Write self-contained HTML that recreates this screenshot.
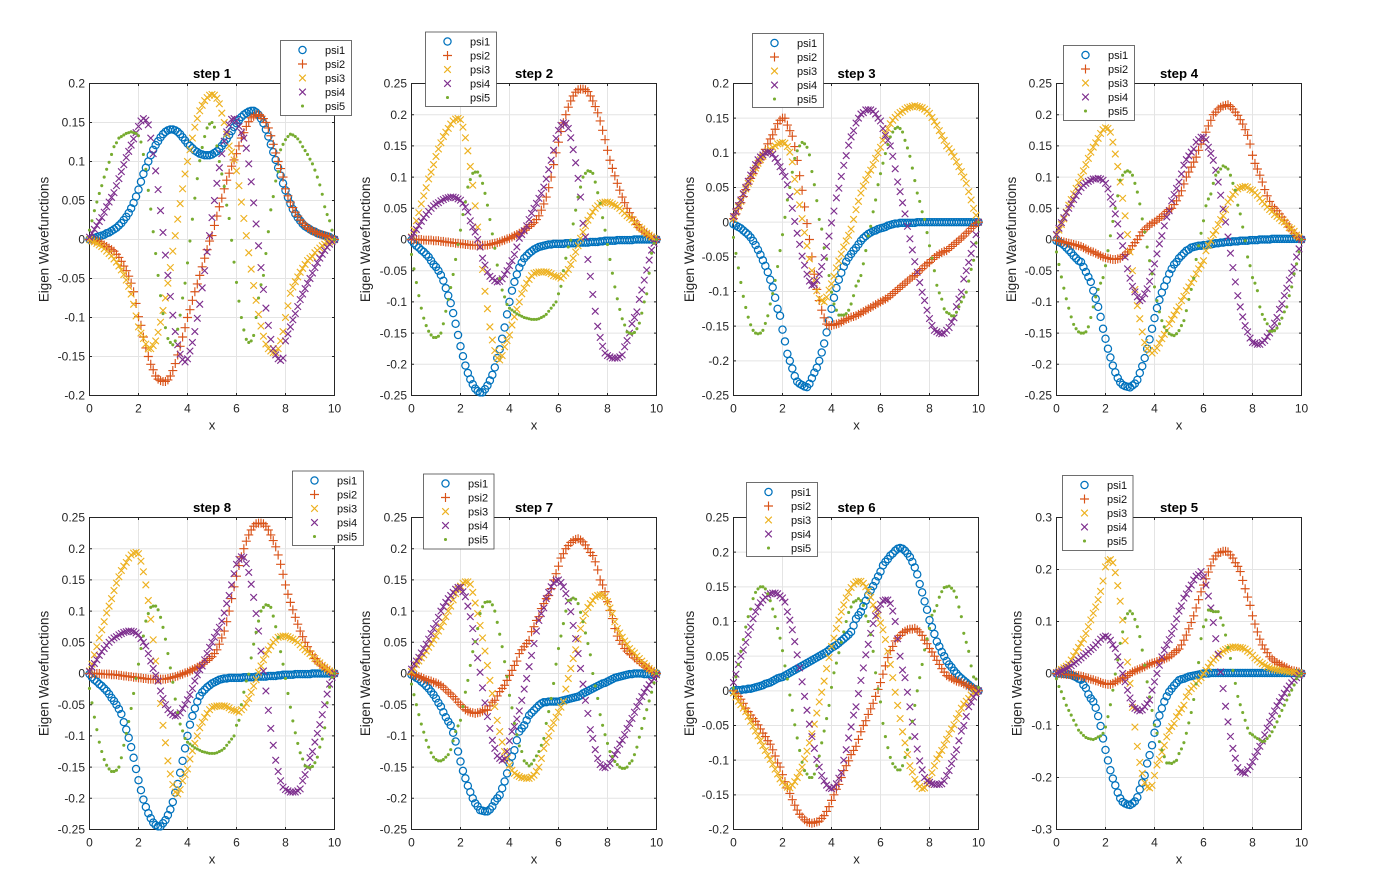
<!DOCTYPE html>
<html lang="en">
<head>
<meta charset="utf-8">
<title>Eigen Wavefunctions by step</title>
<style>
html,body{margin:0;padding:0;background:#fff;}
svg{display:block;font-family:"Liberation Sans",sans-serif;filter:blur(.3px);}
.tick{font-size:12px;fill:#262626;}
.title{font-size:13.2px;font-weight:bold;fill:#000;text-anchor:middle;}
.xlab{font-size:13.2px;fill:#262626;text-anchor:middle;}
.ylab{font-size:13.4px;fill:#262626;text-anchor:middle;}
.lbox{fill:#fff;stroke:#4a4a4a;stroke-width:.8;}
.ltxt{font-size:11px;fill:#111;}
</style>
</head>
<body>
<svg id="figure" xmlns="http://www.w3.org/2000/svg" width="1374" height="878" viewBox="0 0 1374 878">
<defs>
<circle id="mk1" r="3.6" fill="none" stroke="#0072BD" stroke-width="1.25"/>
<path id="mk2" d="M-4.5 0H4.5M0 -4.5V4.5" fill="none" stroke="#D95319" stroke-width="1.15"/>
<path id="mk3" d="M-3.3 -3.3L3.3 3.3M-3.3 3.3L3.3 -3.3" fill="none" stroke="#EDB120" stroke-width="1.15"/>
<path id="mk4" d="M-3.3 -3.3L3.3 3.3M-3.3 3.3L3.3 -3.3" fill="none" stroke="#7E2F8E" stroke-width="1.15"/>
<circle id="mk5" r="1.55" fill="#77AC30"/>
</defs>

<g id="step1">
<g class="plot"></g>
<text class="title" x="212" y="78">step 1</text>
<text class="xlab" x="212" y="429.5">x</text>
<text class="ylab" transform="translate(48.5,239.5) rotate(-90)">Eigen Wavefunctions</text>
<g transform="translate(280.5,40.5)">
<rect class="lbox" width="71" height="75"/>
<g><use href="#mk1" x="22" y="9.5"/><text class="ltxt" x="44.5" y="13.5">psi1</text></g>
<g><use href="#mk2" x="22" y="23.5"/><text class="ltxt" x="44.5" y="27.5">psi2</text></g>
<g><use href="#mk3" x="22" y="37.5"/><text class="ltxt" x="44.5" y="41.5">psi3</text></g>
<g><use href="#mk4" x="22" y="51.5"/><text class="ltxt" x="44.5" y="55.5">psi4</text></g>
<g><use href="#mk5" x="22" y="65.5"/><text class="ltxt" x="44.5" y="69.5">psi5</text></g>
</g>
</g>

<g id="step2">
<g class="plot"></g>
<text class="title" x="534" y="78">step 2</text>
<text class="xlab" x="534" y="429.5">x</text>
<text class="ylab" transform="translate(370,239.5) rotate(-90)">Eigen Wavefunctions</text>
<g transform="translate(425.5,32)">
<rect class="lbox" width="71" height="74.5"/>
<g><use href="#mk1" x="22" y="9.5"/><text class="ltxt" x="44.5" y="13.5">psi1</text></g>
<g><use href="#mk2" x="22" y="23.5"/><text class="ltxt" x="44.5" y="27.5">psi2</text></g>
<g><use href="#mk3" x="22" y="37.5"/><text class="ltxt" x="44.5" y="41.5">psi3</text></g>
<g><use href="#mk4" x="22" y="51.5"/><text class="ltxt" x="44.5" y="55.5">psi4</text></g>
<g><use href="#mk5" x="22" y="65.5"/><text class="ltxt" x="44.5" y="69.5">psi5</text></g>
</g>
</g>

<g id="step3">
<g class="plot"></g>
<text class="title" x="856.5" y="78">step 3</text>
<text class="xlab" x="856.5" y="429.5">x</text>
<text class="ylab" transform="translate(694,239.5) rotate(-90)">Eigen Wavefunctions</text>
<g transform="translate(752.5,33.5)">
<rect class="lbox" width="71" height="74"/>
<g><use href="#mk1" x="22" y="9.5"/><text class="ltxt" x="44.5" y="13.5">psi1</text></g>
<g><use href="#mk2" x="22" y="23.5"/><text class="ltxt" x="44.5" y="27.5">psi2</text></g>
<g><use href="#mk3" x="22" y="37.5"/><text class="ltxt" x="44.5" y="41.5">psi3</text></g>
<g><use href="#mk4" x="22" y="51.5"/><text class="ltxt" x="44.5" y="55.5">psi4</text></g>
<g><use href="#mk5" x="22" y="65.5"/><text class="ltxt" x="44.5" y="69.5">psi5</text></g>
</g>
</g>

<g id="step4">
<g class="plot"></g>
<text class="title" x="1179" y="78">step 4</text>
<text class="xlab" x="1179" y="429.5">x</text>
<text class="ylab" transform="translate(1016,239.5) rotate(-90)">Eigen Wavefunctions</text>
<g transform="translate(1063.5,45.5)">
<rect class="lbox" width="71" height="75"/>
<g><use href="#mk1" x="22" y="9.5"/><text class="ltxt" x="44.5" y="13.5">psi1</text></g>
<g><use href="#mk2" x="22" y="23.5"/><text class="ltxt" x="44.5" y="27.5">psi2</text></g>
<g><use href="#mk3" x="22" y="37.5"/><text class="ltxt" x="44.5" y="41.5">psi3</text></g>
<g><use href="#mk4" x="22" y="51.5"/><text class="ltxt" x="44.5" y="55.5">psi4</text></g>
<g><use href="#mk5" x="22" y="65.5"/><text class="ltxt" x="44.5" y="69.5">psi5</text></g>
</g>
</g>

<g id="step8">
<g class="plot"></g>
<text class="title" x="212" y="512">step 8</text>
<text class="xlab" x="212" y="863.5">x</text>
<text class="ylab" transform="translate(48.5,673.5) rotate(-90)">Eigen Wavefunctions</text>
<g transform="translate(292.5,471)">
<rect class="lbox" width="71" height="74.5"/>
<g><use href="#mk1" x="22" y="9.5"/><text class="ltxt" x="44.5" y="13.5">psi1</text></g>
<g><use href="#mk2" x="22" y="23.5"/><text class="ltxt" x="44.5" y="27.5">psi2</text></g>
<g><use href="#mk3" x="22" y="37.5"/><text class="ltxt" x="44.5" y="41.5">psi3</text></g>
<g><use href="#mk4" x="22" y="51.5"/><text class="ltxt" x="44.5" y="55.5">psi4</text></g>
<g><use href="#mk5" x="22" y="65.5"/><text class="ltxt" x="44.5" y="69.5">psi5</text></g>
</g>
</g>

<g id="step7">
<g class="plot"></g>
<text class="title" x="534" y="512">step 7</text>
<text class="xlab" x="534" y="863.5">x</text>
<text class="ylab" transform="translate(370,673.5) rotate(-90)">Eigen Wavefunctions</text>
<g transform="translate(423.5,474)">
<rect class="lbox" width="70.5" height="75"/>
<g><use href="#mk1" x="22" y="9.5"/><text class="ltxt" x="44.5" y="13.5">psi1</text></g>
<g><use href="#mk2" x="22" y="23.5"/><text class="ltxt" x="44.5" y="27.5">psi2</text></g>
<g><use href="#mk3" x="22" y="37.5"/><text class="ltxt" x="44.5" y="41.5">psi3</text></g>
<g><use href="#mk4" x="22" y="51.5"/><text class="ltxt" x="44.5" y="55.5">psi4</text></g>
<g><use href="#mk5" x="22" y="65.5"/><text class="ltxt" x="44.5" y="69.5">psi5</text></g>
</g>
</g>

<g id="step6">
<g class="plot"></g>
<text class="title" x="856.5" y="512">step 6</text>
<text class="xlab" x="856.5" y="863.5">x</text>
<text class="ylab" transform="translate(694,673.5) rotate(-90)">Eigen Wavefunctions</text>
<g transform="translate(746.5,482.5)">
<rect class="lbox" width="71" height="74"/>
<g><use href="#mk1" x="22" y="9.5"/><text class="ltxt" x="44.5" y="13.5">psi1</text></g>
<g><use href="#mk2" x="22" y="23.5"/><text class="ltxt" x="44.5" y="27.5">psi2</text></g>
<g><use href="#mk3" x="22" y="37.5"/><text class="ltxt" x="44.5" y="41.5">psi3</text></g>
<g><use href="#mk4" x="22" y="51.5"/><text class="ltxt" x="44.5" y="55.5">psi4</text></g>
<g><use href="#mk5" x="22" y="65.5"/><text class="ltxt" x="44.5" y="69.5">psi5</text></g>
</g>
</g>

<g id="step5">
<g class="plot"></g>
<text class="title" x="1179" y="512">step 5</text>
<text class="xlab" x="1179" y="863.5">x</text>
<text class="ylab" transform="translate(1021.5,673.5) rotate(-90)">Eigen Wavefunctions</text>
<g transform="translate(1062.5,475.5)">
<rect class="lbox" width="70.5" height="75"/>
<g><use href="#mk1" x="22" y="9.5"/><text class="ltxt" x="44.5" y="13.5">psi1</text></g>
<g><use href="#mk2" x="22" y="23.5"/><text class="ltxt" x="44.5" y="27.5">psi2</text></g>
<g><use href="#mk3" x="22" y="37.5"/><text class="ltxt" x="44.5" y="41.5">psi3</text></g>
<g><use href="#mk4" x="22" y="51.5"/><text class="ltxt" x="44.5" y="55.5">psi4</text></g>
<g><use href="#mk5" x="22" y="65.5"/><text class="ltxt" x="44.5" y="69.5">psi5</text></g>
</g>
</g>
</svg>

<script>
const xValues=[0,.1,.2,.3,.4,.5,.6,.7,.8,.9,
1,1.1,1.2,1.3,1.4,1.5,1.6,1.7,1.8,1.9,
2,2.1,2.2,2.3,2.4,2.5,2.6,2.7,2.8,2.9,
3,3.1,3.2,3.3,3.4,3.5,3.6,3.7,3.8,3.9,
4,4.1,4.2,4.3,4.4,4.5,4.6,4.7,4.8,4.9,
5,5.1,5.2,5.3,5.4,5.5,5.6,5.7,5.8,5.9,
6,6.1,6.2,6.3,6.4,6.5,6.6,6.7,6.8,6.9,
7,7.1,7.2,7.3,7.4,7.5,7.6,7.7,7.8,7.9,
8,8.1,8.2,8.3,8.4,8.5,8.6,8.7,8.8,8.9,
9,9.1,9.2,9.3,9.4,9.5,9.6,9.7,9.8,9.9,
10];
const xTicks=[0,2,4,6,8,10];
const yTicksStep1=[-.2,-.15,-.1,-.05,0,.05,.1,.15,.2];
const yTicksStep2=[-.25,-.2,-.15,-.1,-.05,0,.05,.1,.15,.2,.25];
const yTicksStep3=[-.25,-.2,-.15,-.1,-.05,0,.05,.1,.15,.2];
const yTicksStep4=[-.25,-.2,-.15,-.1,-.05,0,.05,.1,.15,.2,.25];
const yTicksStep8=[-.25,-.2,-.15,-.1,-.05,0,.05,.1,.15,.2,.25];
const yTicksStep7=[-.25,-.2,-.15,-.1,-.05,0,.05,.1,.15,.2,.25];
const yTicksStep6=[-.2,-.15,-.1,-.05,0,.05,.1,.15,.2,.25];
const yTicksStep5=[-.3,-.2,-.1,0,.1,.2,.3];

const step1Psi1=[0,.001,.002,.003,.004,.005,.006,.008,.009,.011,
.013,.015,.018,.021,.025,.029,.034,.04,.047,.055,
.064,.074,.084,.092,.1,.108,.115,.121,.126,.131,
.135,.138,.14,.141,.141,.14,.138,.135,.131,.127,
.123,.12,.117,.114,.112,.11,.109,.108,.108,.108,
.109,.111,.113,.116,.12,.124,.129,.134,.139,.144,
.149,.153,.157,.16,.162,.164,.165,.165,.163,.16,
.155,.149,.141,.132,.122,.112,.102,.092,.082,.072,
.063,.054,.046,.039,.033,.028,.024,.02,.017,.015,
.013,.011,.01,.008,.007,.006,.005,.004,.003,.001,
0];
const step1Psi2=[0,-.001,-.001,-.002,-.003,-.005,-.007,-.009,-.011,-.013,
-.015,-.019,-.023,-.028,-.034,-.04,-.047,-.056,-.067,-.082,
-.099,-.11,-.125,-.139,-.15,-.16,-.167,-.175,-.179,-.181,
-.182,-.182,-.18,-.175,-.168,-.159,-.148,-.137,-.125,-.113,
-.1,-.09,-.078,-.067,-.057,-.046,-.035,-.024,-.013,-.002,
.005,.018,.03,.042,.053,.065,.076,.085,.094,.102,
.11,.12,.13,.137,.145,.151,.156,.158,.16,.16,
.158,.155,.15,.143,.133,.122,.111,.1,.091,.08,
.065,.056,.048,.041,.035,.03,.025,.021,.018,.015,
.013,.011,.01,.008,.007,.006,.005,.004,.003,.001,
0];
const step1Psi3=[0,-.002,-.003,-.005,-.007,-.009,-.012,-.015,-.018,-.021,
-.025,-.029,-.034,-.039,-.045,-.052,-.06,-.07,-.083,-.098,
-.112,-.12,-.127,-.134,-.14,-.14,-.136,-.13,-.119,-.106,
-.091,-.075,-.056,-.036,-.015,.005,.026,.046,.065,.084,
.1,.115,.13,.144,.155,.165,.172,.178,.182,.185,
.186,.185,.181,.174,.162,.15,.135,.12,.112,.102,
.088,.069,.048,.027,.005,-.017,-.038,-.059,-.078,-.096,
-.111,-.124,-.134,-.14,-.143,-.145,-.145,-.14,-.13,-.118,
-.1,-.085,-.069,-.061,-.054,-.048,-.042,-.037,-.032,-.027,
-.024,-.022,-.017,-.014,-.011,-.008,-.006,-.004,-.003,-.001,
0];
const step1Psi4=[.003,.008,.013,.018,.023,.028,.035,.042,.048,.054,
.06,.069,.078,.087,.096,.105,.113,.121,.129,.137,
.145,.152,.155,.153,.147,.13,.11,.088,.064,.037,
.009,-.02,-.046,-.073,-.097,-.118,-.135,-.147,-.154,-.157,
-.153,-.143,-.132,-.118,-.101,-.083,-.062,-.04,-.016,.005,
.028,.05,.072,.092,.11,.126,.138,.147,.154,.155,
.152,.145,.137,.13,.117,.097,.074,.047,.02,-.008,
-.036,-.064,-.088,-.11,-.128,-.14,-.148,-.153,-.155,-.152,
-.13,-.121,-.112,-.103,-.095,-.086,-.077,-.07,-.063,-.056,
-.05,-.043,-.036,-.03,-.024,-.019,-.014,-.01,-.006,-.003,
0];
const step1Psi5=[.012,.024,.037,.048,.059,.069,.08,.09,.099,.109,
.119,.124,.13,.132,.134,.136,.137,.138,.137,.136,
.133,.125,.109,.09,.063,.039,.01,-.018,-.046,-.072,
-.095,-.113,-.127,-.132,-.135,-.13,-.115,-.097,-.075,-.056,
-.03,-.002,.026,.053,.078,.101,.118,.132,.143,.148,
.15,.144,.12,.1,.084,.068,.044,.027,-.001,-.029,
-.055,-.079,-.1,-.116,-.128,-.132,-.13,-.123,-.1,-.075,
-.058,-.046,-.018,.01,.038,.055,.075,.087,.115,.122,
.128,.132,.135,.134,.132,.129,.125,.119,.114,.109,
.103,.097,.089,.08,.07,.058,.042,.032,.024,.012,
0];

const step2Psi1=[-.001,-.006,-.01,-.013,-.017,-.02,-.024,-.028,-.034,-.04,
-.044,-.05,-.057,-.066,-.078,-.09,-.102,-.118,-.135,-.153,
-.171,-.187,-.202,-.214,-.224,-.232,-.239,-.243,-.245,-.245,
-.24,-.234,-.226,-.217,-.205,-.19,-.176,-.159,-.141,-.12,
-.1,-.082,-.068,-.056,-.045,-.037,-.03,-.026,-.022,-.019,
-.016,-.014,-.012,-.011,-.01,-.009,-.008,-.008,-.007,-.007,
-.007,-.007,-.007,-.006,-.006,-.006,-.006,-.006,-.005,-.005,
-.005,-.005,-.005,-.004,-.004,-.004,-.004,-.003,-.003,-.002,
-.002,-.002,-.002,-.002,-.001,-.001,-.001,-.001,-.001,-.001,
-.001,0,0,0,0,0,0,0,0,0,
0];
const step2Psi2=[0,0,0,0,0,-.001,-.001,-.001,-.001,-.002,
-.002,-.002,-.003,-.003,-.004,-.004,-.005,-.005,-.006,-.006,
-.007,-.007,-.008,-.008,-.009,-.009,-.009,-.009,-.009,-.009,
-.009,-.009,-.008,-.007,-.006,-.005,-.004,-.002,-.001,.001,
.002,.004,.006,.008,.01,.012,.015,.018,.021,.024,
.027,.032,.038,.047,.057,.068,.083,.1,.12,.139,
.156,.173,.187,.2,.212,.222,.23,.236,.24,.241,
.241,.24,.237,.23,.222,.213,.203,.19,.175,.16,
.143,.127,.114,.102,.09,.079,.068,.059,.05,.043,
.036,.03,.024,.019,.015,.012,.009,.006,.004,.002,
0];
const step2Psi3=[.004,.015,.03,.043,.057,.07,.083,.097,.108,.12,
.133,.145,.155,.165,.172,.178,.185,.19,.193,.194,
.192,.18,.163,.142,.117,.087,.054,.02,-.012,-.048,
-.083,-.111,-.14,-.161,-.178,-.19,-.193,-.186,-.172,-.162,
-.153,-.137,-.124,-.112,-.1,-.087,-.078,-.07,-.064,-.058,
-.054,-.053,-.052,-.052,-.052,-.052,-.053,-.055,-.058,-.059,
-.06,-.062,-.058,-.054,-.048,-.04,-.03,-.02,-.01,.002,
.012,.022,.031,.038,.044,.05,.054,.058,.059,.06,
.06,.059,.057,.055,.053,.05,.046,.042,.038,.035,
.032,.028,.024,.02,.017,.013,.01,.007,.004,.002,
0];
const step2Psi4=[.003,.01,.016,.022,.029,.035,.04,.045,.05,.054,
.057,.059,.062,.064,.066,.067,.068,.068,.067,.065,
.063,.058,.052,.044,.03,.02,.012,0,-.012,-.03,
-.041,-.052,-.059,-.0625,-.066,-.068,-.067,-.063,-.056,-.05,
-.042,-.034,-.024,-.012,.002,.008,.014,.022,.032,.042,
.05,.058,.066,.074,.084,.097,.112,.127,.143,.162,
.175,.183,.187,.186,.178,.163,.144,.123,.098,.068,
.026,.004,-.032,-.059,-.088,-.115,-.139,-.157,-.171,-.182,
-.186,-.188,-.19,-.19,-.19,-.188,-.185,-.172,-.162,-.15,
-.135,-.125,-.116,-.096,-.081,-.065,-.049,-.033,-.017,-.006,
0];
const step2Psi5=[-.024,-.047,-.069,-.09,-.11,-.126,-.138,-.147,-.153,-.157,
-.157,-.155,-.15,-.135,-.115,-.096,-.077,-.056,-.032,-.008,
.015,.04,.06,.084,.096,.106,.108,.108,.102,.09,
.074,.055,.032,.009,-.014,-.041,-.0625,-.081,-.092,-.104,
-.11,-.113,-.116,-.119,-.121,-.123,-.125,-.126,-.127,-.128,
-.128,-.128,-.127,-.125,-.123,-.12,-.115,-.11,-.105,-.1,
-.087,-.075,-.05,-.03,-.012,-.001,.025,.047,.068,.084,
.1,.106,.11,.109,.106,.092,.075,.058,.035,.015,
-.008,-.032,-.054,-.076,-.095,-.112,-.127,-.137,-.148,-.15,
-.151,-.149,-.143,-.134,-.118,-.1,-.087,-.054,-.022,-.006,
0];

const step3Psi1=[-.003,-.005,-.007,-.009,-.012,-.015,-.018,-.022,-.027,-.033,
-.04,-.047,-.055,-.063,-.072,-.083,-.094,-.109,-.125,-.135,
-.155,-.172,-.19,-.2,-.211,-.222,-.23,-.233,-.235,-.237,
-.238,-.233,-.225,-.217,-.21,-.2,-.188,-.175,-.159,-.142,
-.125,-.109,-.095,-.083,-.073,-.064,-.057,-.051,-.046,-.041,
-.037,-.032,-.027,-.023,-.02,-.017,-.015,-.013,-.012,-.01,
-.009,-.008,-.007,-.005,-.004,-.003,-.002,-.002,-.001,-.001,
-.001,-.001,-.001,-.001,-.001,0,0,0,0,0,
0,0,0,0,0,0,0,0,0,0,
0,0,0,0,0,0,0,0,0,0,
0];
const step3Psi2=[.005,.012,.02,.028,.037,.047,.055,.063,.07,.078,
.085,.09,.097,.105,.113,.12,.126,.134,.142,.147,
.15,.15,.14,.132,.124,.109,.089,.067,.046,.022,
-.002,-.025,-.05,-.075,-.097,-.113,-.127,-.138,-.147,-.149,
-.149,-.148,-.147,-.146,-.144,-.142,-.14,-.139,-.137,-.136,
-.135,-.133,-.131,-.129,-.127,-.125,-.123,-.121,-.119,-.117,
-.115,-.113,-.111,-.109,-.106,-.103,-.1,-.097,-.094,-.091,
-.088,-.085,-.082,-.079,-.077,-.074,-.07,-.067,-.063,-.06,
-.058,-.054,-.051,-.048,-.046,-.044,-.042,-.041,-.038,-.035,
-.032,-.029,-.026,-.023,-.02,-.016,-.013,-.009,-.006,-.002,
0];
const step3Psi3=[.005,.014,.022,.03,.04,.048,.056,.063,.071,.078,
.085,.09,.095,.1,.103,.105,.108,.11,.113,.114,
.115,.114,.109,.101,.087,.062,.044,.025,.005,-.015,
-.034,-.053,-.07,-.084,-.099,-.11,-.113,-.115,-.108,-.098,
-.089,-.078,-.066,-.056,-.046,-.036,-.027,-.019,-.01,.004,
.018,.03,.042,.052,.061,.069,.075,.083,.092,.1,
.108,.118,.128,.135,.142,.147,.151,.155,.158,.16,
.163,.165,.166,.167,.168,.167,.166,.165,.163,.16,
.157,.151,.145,.14,.132,.125,.118,.11,.106,.101,
.095,.087,.08,.073,.065,.056,.044,.032,.02,.01,
0];
const step3Psi4=[.008,.015,.024,.032,.041,.05,.059,.068,.075,.083,
.09,.094,.097,.1,.101,.101,.098,.092,.087,.08,
.073,.066,.054,.037,.02,.001,-.016,-.032,-.049,-.062,
-.075,-.085,-.091,-.09,-.084,-.075,-.064,-.051,-.035,-.02,
-.001,.016,.035,.049,.066,.082,.096,.111,.123,.132,
.143,.15,.156,.158,.162,.162,.162,.16,.156,.15,
.146,.135,.125,.118,.11,.095,.077,.058,.044,.028,
.012,-.006,-.024,-.04,-.057,-.072,-.087,-.101,-.113,-.127,
-.139,-.149,-.156,-.158,-.16,-.161,-.16,-.156,-.152,-.144,
-.138,-.122,-.111,-.101,-.082,-.07,-.058,-.045,-.032,-.018,
0];
const step3Psi5=[-.022,-.045,-.066,-.087,-.107,-.123,-.137,-.148,-.156,-.16,
-.161,-.16,-.156,-.146,-.135,-.118,-.103,-.084,-.064,-.041,
-.018,.007,.032,.05,.072,.092,.103,.11,.115,.113,
.108,.097,.073,.054,.031,.004,-.01,-.037,-.053,-.077,
-.101,-.118,-.127,-.134,-.134,-.134,-.132,-.127,-.118,-.106,
-.092,-.085,-.077,-.06,-.041,-.02,-.006,.015,.032,.054,
.07,.085,.099,.112,.123,.13,.135,.137,.135,.13,
.118,.107,.095,.078,.06,.042,.03,.015,.004,-.015,
-.034,-.052,-.07,-.091,-.102,-.111,-.125,-.13,-.132,-.135,
-.135,-.13,-.122,-.115,-.108,-.101,-.085,-.068,-.055,-.03,
0];

const step4Psi1=[-.002,-.004,-.006,-.009,-.013,-.017,-.021,-.026,-.03,-.034,
-.036,-.044,-.052,-.06,-.068,-.082,-.095,-.108,-.124,-.143,
-.159,-.175,-.189,-.202,-.213,-.222,-.229,-.233,-.235,-.236,
-.237,-.234,-.231,-.225,-.214,-.203,-.19,-.175,-.16,-.143,
-.126,-.11,-.097,-.085,-.075,-.065,-.055,-.047,-.04,-.036,
-.03,-.026,-.022,-.018,-.016,-.013,-.012,-.011,-.01,-.01,
-.009,-.009,-.008,-.008,-.007,-.006,-.006,-.005,-.005,-.004,
-.004,-.004,-.003,-.003,-.003,-.002,-.002,-.002,-.002,-.001,
-.001,-.001,-.001,0,0,0,0,0,.001,.001,
.001,.001,.001,.001,.001,.001,.001,.001,.001,.001,
0];
const step4Psi2=[-.001,-.002,-.003,-.004,-.005,-.006,-.007,-.008,-.009,-.01,
-.011,-.013,-.015,-.017,-.019,-.02,-.022,-.024,-.026,-.028,
-.029,-.03,-.031,-.032,-.032,-.031,-.03,-.027,-.024,-.02,
-.016,-.01,-.005,0,.006,.012,.016,.02,.023,.026,
.028,.031,.034,.037,.041,.045,.048,.05,.056,.062,
.07,.078,.089,.1,.108,.116,.124,.132,.143,.153,
.159,.172,.182,.191,.2,.204,.209,.212,.214,.215,
.216,.213,.209,.204,.199,.192,.185,.176,.167,.153,
.135,.122,.113,.103,.092,.08,.07,.061,.053,.05,
.046,.041,.036,.031,.025,.02,.014,.01,.005,.002,
0];
const step4Psi3=[.007,.015,.024,.033,.044,.055,.064,.073,.082,.091,
.1,.11,.12,.13,.14,.148,.155,.162,.17,.176,
.179,.178,.172,.156,.137,.117,.092,.066,.038,.008,
-.02,-.05,-.08,-.106,-.127,-.148,-.165,-.175,-.178,-.182,
-.178,-.174,-.166,-.159,-.152,-.146,-.135,-.128,-.121,-.114,
-.108,-.098,-.091,-.082,-.076,-.069,-.063,-.055,-.047,-.041,
-.034,-.018,-.009,-.002,.008,.014,.024,.032,.038,.048,
.06,.065,.072,.076,.081,.083,.084,.085,.084,.08,
.079,.075,.071,.066,.061,.057,.052,.048,.045,.04,
.037,.034,.03,.028,.024,.019,.017,.013,.007,.004,
0];
const step4Psi4=[.008,.018,.027,.035,.043,.05,.057,.064,.07,.077,
.083,.087,.09,.093,.095,.097,.097,.098,.097,.095,
.09,.081,.068,.057,.041,.025,.006,-.01,-.028,-.047,
-.062,-.075,-.084,-.092,-.098,-.095,-.087,-.079,-.067,-.052,
-.039,-.023,-.007,.006,.022,.036,.046,.062,.072,.082,
.092,.105,.119,.128,.134,.14,.145,.156,.16,.164,
.164,.16,.148,.138,.127,.111,.092,.071,.049,.028,
.004,-.022,-.045,-.068,-.09,-.108,-.124,-.138,-.148,-.158,
-.165,-.166,-.168,-.168,-.165,-.162,-.156,-.15,-.143,-.134,
-.125,-.112,-.103,-.09,-.078,-.065,-.054,-.044,-.028,-.015,
0];
const step4Psi5=[-.02,-.04,-.06,-.078,-.095,-.11,-.124,-.136,-.143,-.148,
-.15,-.15,-.148,-.14,-.125,-.108,-.092,-.08,-.07,-.061,
-.042,-.018,.006,.029,.05,.07,.095,.103,.108,.11,
.108,.103,.09,.076,.057,.033,.012,-.012,-.034,-.055,
-.076,-.098,-.116,-.13,-.14,-.146,-.151,-.153,-.154,-.151,
-.146,-.138,-.13,-.114,-.096,-.08,-.062,-.032,-.01,.01,
.03,.054,.065,.073,.09,.103,.108,.113,.118,.116,
.113,.103,.09,.079,.055,.041,.02,-.002,-.028,-.042,
-.061,-.07,-.082,-.108,-.12,-.128,-.135,-.147,-.147,-.146,
-.142,-.135,-.126,-.116,-.108,-.09,-.076,-.055,-.039,-.02,
0];

const step8Psi1=[-.001,-.006,-.01,-.013,-.017,-.02,-.024,-.028,-.033,-.039,
-.044,-.05,-.057,-.065,-.078,-.09,-.103,-.118,-.135,-.153,
-.171,-.187,-.202,-.214,-.224,-.232,-.239,-.243,-.245,-.245,
-.24,-.235,-.227,-.218,-.206,-.191,-.177,-.159,-.14,-.12,
-.1,-.082,-.068,-.056,-.045,-.036,-.03,-.026,-.022,-.019,
-.016,-.014,-.012,-.01,-.009,-.008,-.008,-.007,-.007,-.007,
-.007,-.007,-.007,-.006,-.006,-.006,-.006,-.006,-.005,-.005,
-.005,-.005,-.005,-.004,-.004,-.004,-.004,-.003,-.003,-.002,
-.002,-.002,-.002,-.002,-.001,-.001,-.001,-.001,-.001,-.001,
-.001,0,0,0,0,0,0,0,0,0,
0];
const step8Psi2=[0,0,0,0,0,-.001,-.001,-.001,-.001,-.002,
-.002,-.002,-.003,-.003,-.004,-.004,-.005,-.005,-.006,-.006,
-.007,-.007,-.008,-.008,-.009,-.009,-.009,-.009,-.009,-.009,
-.009,-.009,-.008,-.007,-.006,-.005,-.004,-.002,-.001,.001,
.002,.004,.006,.008,.01,.012,.015,.018,.021,.024,
.027,.032,.038,.047,.057,.068,.083,.1,.12,.139,
.156,.173,.187,.2,.212,.222,.23,.236,.24,.241,
.241,.24,.236,.23,.222,.213,.203,.19,.175,.159,
.142,.127,.114,.102,.09,.079,.068,.059,.05,.043,
.036,.03,.024,.019,.015,.012,.009,.006,.004,.002,
0];
const step8Psi3=[.004,.015,.03,.043,.057,.07,.083,.097,.108,.12,
.133,.145,.155,.165,.172,.178,.185,.19,.193,.194,
.192,.18,.163,.142,.117,.087,.054,.02,-.012,-.048,
-.083,-.111,-.14,-.161,-.178,-.19,-.193,-.186,-.172,-.162,
-.153,-.137,-.124,-.112,-.1,-.087,-.078,-.07,-.064,-.058,
-.054,-.053,-.052,-.052,-.052,-.052,-.053,-.055,-.058,-.059,
-.06,-.062,-.058,-.054,-.048,-.04,-.03,-.02,-.01,.002,
.012,.022,.031,.038,.044,.05,.054,.058,.059,.06,
.06,.059,.057,.055,.053,.05,.046,.042,.038,.035,
.032,.028,.024,.02,.017,.013,.01,.007,.004,.002,
0];
const step8Psi4=[.003,.01,.016,.022,.029,.035,.04,.045,.05,.054,
.057,.059,.062,.064,.066,.067,.068,.068,.067,.065,
.062,.056,.05,.044,.032,.02,.008,-.003,-.012,-.028,
-.04,-.05,-.058,-.063,-.066,-.068,-.067,-.063,-.056,-.05,
-.042,-.034,-.024,-.012,-.002,.006,.012,.022,.032,.042,
.05,.058,.066,.074,.084,.097,.112,.125,.142,.16,
.175,.183,.187,.186,.176,.162,.143,.122,.096,.068,
.036,.004,-.028,-.059,-.088,-.115,-.139,-.157,-.172,-.182,
-.186,-.188,-.19,-.19,-.19,-.188,-.185,-.172,-.162,-.15,
-.135,-.125,-.11,-.096,-.082,-.066,-.05,-.033,-.017,-.006,
0];
const step8Psi5=[-.024,-.047,-.07,-.09,-.11,-.125,-.138,-.147,-.153,-.157,
-.157,-.155,-.15,-.135,-.115,-.096,-.077,-.056,-.032,-.008,
.015,.04,.06,.084,.096,.106,.108,.108,.102,.09,
.074,.055,.032,.009,-.014,-.041,-.0625,-.081,-.092,-.104,
-.11,-.113,-.116,-.119,-.121,-.123,-.125,-.126,-.127,-.128,
-.128,-.128,-.127,-.125,-.123,-.12,-.115,-.11,-.105,-.1,
-.083,-.075,-.05,-.03,-.012,-.001,.025,.047,.066,.084,
.1,.106,.11,.109,.106,.092,.075,.058,.035,.015,
-.008,-.032,-.054,-.076,-.095,-.112,-.127,-.137,-.148,-.15,
-.151,-.149,-.143,-.134,-.118,-.105,-.087,-.047,-.022,-.006,
0];

const step7Psi1=[-.002,-.004,-.007,-.009,-.013,-.016,-.02,-.024,-.029,-.034,
-.04,-.047,-.053,-.062,-.07,-.077,-.083,-.095,-.109,-.125,
-.141,-.156,-.168,-.18,-.19,-.2,-.208,-.213,-.219,-.22,
-.221,-.221,-.218,-.213,-.205,-.2,-.195,-.184,-.173,-.16,
-.144,-.133,-.123,-.107,-.093,-.088,-.083,-.075,-.067,-.063,
-.059,-.055,-.051,-.048,-.046,-.046,-.045,-.045,-.045,-.045,
-.045,-.044,-.043,-.042,-.041,-.04,-.039,-.038,-.037,-.035,
-.032,-.03,-.028,-.026,-.024,-.022,-.02,-.018,-.016,-.015,
-.013,-.011,-.009,-.007,-.006,-.005,-.004,-.003,-.002,-.001,
-.001,0,0,0,0,-.001,-.001,-.001,-.002,-.001,
0];
const step7Psi2=[-.001,-.002,-.003,-.005,-.006,-.008,-.01,-.011,-.012,-.014,
-.015,-.017,-.019,-.022,-.026,-.03,-.033,-.037,-.041,-.046,
-.05,-.054,-.058,-.06,-.062,-.063,-.064,-.063,-.062,-.06,
-.058,-.059,-.052,-.046,-.043,-.036,-.029,-.024,-.019,-.011,
-.003,.005,.013,.02,.032,.038,.043,.048,.053,.067,
.075,.085,.091,.104,.112,.12,.125,.136,.15,.16,
.172,.185,.192,.2,.205,.21,.213,.215,.216,.214,
.211,.206,.2,.194,.189,.179,.166,.15,.142,.131,
.115,.101,.088,.072,.06,.053,.047,.04,.036,.032,
.03,.025,.022,.019,.016,.012,.009,.007,.004,.002,
0];
const step7Psi3=[.003,.008,.014,.02,.025,.03,.036,.042,.048,.054,
.06,.068,.075,.083,.091,.1,.108,.118,.128,.135,
.14,.145,.147,.147,.143,.13,.113,.096,.077,.057,
.036,.013,-.011,-.032,-.053,-.075,-.093,-.11,-.125,-.136,
-.147,-.155,-.16,-.163,-.165,-.167,-.167,-.168,-.168,-.166,
-.163,-.157,-.15,-.136,-.12,-.11,-.1,-.088,-.079,-.07,
-.062,-.054,-.045,-.025,-.008,.008,.024,.038,.055,.072,
.085,.096,.106,.112,.117,.123,.125,.126,.126,.123,
.115,.105,.096,.083,.072,.065,.058,.052,.047,.04,
.036,.033,.028,.024,.02,.016,.012,.008,.005,.002,
0];
const step7Psi4=[.007,.015,.02,.026,.033,.04,.047,.055,.064,.072,
.08,.09,.1,.107,.114,.12,.125,.13,.135,.138,
.138,.131,.123,.108,.091,.072,.051,.025,.002,-.023,
-.047,-.069,-.088,-.107,-.12,-.132,-.136,-.139,-.137,-.125,
-.108,-.093,-.085,-.073,-.06,-.043,-.025,-.008,.011,.029,
.048,.068,.085,.096,.105,.12,.13,.139,.145,.149,
.15,.146,.139,.128,.116,.099,.077,.056,.032,.008,
-.017,-.043,-.064,-.09,-.104,-.122,-.136,-.146,-.15,-.151,
-.148,-.144,-.136,-.13,-.123,-.113,-.107,-.098,-.088,-.08,
-.072,-.062,-.053,-.045,-.037,-.03,-.024,-.018,-.013,-.008,
-.002];
const step7Psi5=[-.017,-.034,-.05,-.066,-.081,-.094,-.107,-.118,-.127,-.134,
-.138,-.14,-.14,-.138,-.134,-.13,-.122,-.108,-.093,-.084,
-.075,-.053,-.03,-.011,.013,.035,.051,.072,.096,.107,
.114,.115,.115,.11,.1,.082,.063,.043,.019,-.005,
-.035,-.055,-.08,-.098,-.116,-.125,-.14,-.144,-.148,-.145,
-.139,-.132,-.125,-.115,-.104,-.08,-.061,-.04,-.016,.015,
.04,.06,.08,.1,.117,.118,.121,.119,.112,.098,
.083,.065,.048,.03,0,-.02,-.04,-.066,-.083,-.098,
-.112,-.125,-.133,-.141,-.146,-.15,-.152,-.152,-.15,-.144,
-.14,-.13,-.118,-.102,-.088,-.072,-.058,-.044,-.03,-.015,
0];

const step6Psi1=[0,.001,.001,.001,.002,.002,.003,.003,.004,.005,
.006,.007,.008,.01,.011,.012,.014,.016,.018,.019,
.02,.022,.024,.026,.028,.03,.032,.034,.036,.038,
.04,.042,.044,.046,.048,.05,.052,.054,.056,.059,
.062,.064,.066,.069,.072,.075,.078,.081,.085,.094,
.104,.109,.114,.122,.13,.138,.145,.151,.158,.165,
.172,.181,.186,.19,.195,.198,.202,.205,.206,.205,
.202,.198,.193,.186,.178,.168,.154,.142,.129,.117,
.102,.092,.082,.071,.064,.056,.05,.043,.038,.034,
.029,.025,.021,.018,.015,.012,.009,.006,.003,.002,
0];
const step6Psi2=[0,-.004,-.008,-.012,-.018,-.025,-.03,-.035,-.04,-.044,
-.049,-.055,-.061,-.066,-.072,-.077,-.085,-.094,-.104,-.11,
-.121,-.131,-.14,-.148,-.157,-.165,-.172,-.178,-.182,-.186,
-.189,-.19,-.191,-.19,-.189,-.188,-.184,-.18,-.174,-.167,
-.158,-.15,-.142,-.135,-.125,-.115,-.108,-.101,-.092,-.086,
-.08,-.07,-.059,-.05,-.043,-.034,-.026,-.018,-.008,.002,
.012,.024,.036,.048,.058,.064,.072,.076,.08,.084,
.086,.088,.089,.089,.09,.088,.085,.08,.073,.068,
.061,.056,.05,.044,.038,.032,.027,.022,.02,.018,
.016,.014,.013,.012,.01,.008,.007,.005,.003,.002,
0];
const step6Psi3=[-.003,-.009,-.015,-.02,-.025,-.03,-.037,-.044,-.051,-.058,
-.065,-.072,-.079,-.086,-.093,-.099,-.106,-.113,-.12,-.127,
-.132,-.136,-.139,-.14,-.136,-.131,-.125,-.118,-.11,-.098,
-.087,-.075,-.062,-.048,-.032,-.016,-.002,.014,.032,.048,
.064,.076,.09,.102,.114,.124,.134,.142,.149,.154,
.157,.158,.158,.155,.15,.144,.135,.124,.118,.109,
.098,.088,.074,.057,.038,.019,-.002,-.021,-.04,-.059,
-.075,-.092,-.108,-.117,-.128,-.134,-.138,-.141,-.14,-.135,
-.128,-.118,-.108,-.098,-.092,-.086,-.078,-.07,-.062,-.055,
-.049,-.04,-.033,-.025,-.019,-.015,-.011,-.006,-.002,-.001,
0];
const step6Psi4=[.012,.024,.038,.05,.059,.07,.081,.092,.104,.114,
.121,.127,.131,.135,.138,.14,.141,.141,.14,.137,
.134,.128,.114,.102,.088,.071,.052,.033,.013,-.008,
-.028,-.048,-.066,-.083,-.099,-.11,-.122,-.13,-.136,-.14,
-.141,-.139,-.134,-.126,-.118,-.1,-.085,-.068,-.052,-.035,
-.023,-.004,.015,.033,.052,.067,.083,.097,.108,.117,
.125,.13,.131,.131,.126,.115,.1,.075,.05,.03,
.019,-.002,-.023,-.045,-.066,-.084,-.101,-.114,-.125,-.13,
-.132,-.134,-.135,-.135,-.135,-.134,-.13,-.122,-.115,-.105,
-.095,-.085,-.072,-.058,-.05,-.037,-.023,-.016,-.009,-.004,
0];
const step6Psi5=[.004,.02,.038,.057,.074,.092,.107,.118,.133,.142,
.147,.15,.15,.147,.14,.13,.118,.107,.09,.076,
.058,.036,.017,-.006,-.028,-.049,-.068,-.086,-.103,-.115,
-.12,-.125,-.125,-.12,-.108,-.094,-.075,-.058,-.04,-.021,
.005,.026,.04,.055,.07,.085,.1,.113,.121,.128,
.13,.133,.13,.123,.108,.1,.081,.057,.026,.003,
-.016,-.047,-.066,-.082,-.096,-.105,-.11,-.114,-.114,-.108,
-.096,-.085,-.068,-.044,-.021,0,.019,.038,.059,.075,
.09,.109,.115,.123,.135,.143,.149,.15,.151,.148,
.144,.135,.121,.107,.083,.07,.057,.036,.02,.017,
.005];

const step5Psi1=[0,0,0,-.001,-.001,-.002,-.003,-.005,-.007,-.01,
-.012,-.022,-.028,-.04,-.048,-.054,-.066,-.082,-.101,-.125,
-.147,-.167,-.186,-.202,-.215,-.229,-.24,-.247,-.25,-.252,
-.253,-.25,-.246,-.238,-.223,-.21,-.196,-.173,-.157,-.138,
-.114,-.096,-.081,-.067,-.054,-.044,-.035,-.029,-.023,-.018,
-.013,-.011,-.01,-.008,-.006,-.005,-.004,-.003,-.002,-.001,
0,0,0,.001,.001,.001,.001,.001,.001,.001,
.001,.001,.001,.001,.001,.001,.001,.001,.001,.001,
.001,.001,.001,.001,.001,.001,.001,.001,.001,.001,
.001,.001,.001,.001,.001,.001,.001,.001,.001,0,
0];
const step5Psi2=[0,0,-.001,-.001,-.002,-.002,-.003,-.003,-.004,-.004,
-.005,-.006,-.008,-.009,-.011,-.012,-.014,-.015,-.017,-.019,
-.02,-.021,-.021,-.019,-.016,-.014,-.011,-.009,-.007,-.004,
0,.003,.005,.007,.009,.011,.013,.016,.018,.02,
.021,.023,.024,.026,.028,.03,.032,.036,.04,.044,
.047,.055,.064,.074,.086,.098,.111,.126,.142,.157,
.17,.182,.195,.207,.22,.226,.232,.233,.235,.235,
.234,.228,.222,.213,.206,.196,.179,.163,.147,.131,
.111,.095,.08,.066,.055,.047,.04,.032,.028,.024,
.021,.018,.016,.013,.011,.008,.006,.005,.004,.003,
0];
const step5Psi3=[.002,.005,.008,.011,.014,.018,.026,.034,.042,.05,
.058,.066,.077,.09,.103,.116,.128,.142,.158,.178,
.205,.217,.219,.213,.194,.169,.139,.103,.063,.022,
-.019,-.065,-.103,-.14,-.171,-.192,-.21,-.218,-.22,-.215,
-.196,-.176,-.165,-.151,-.138,-.122,-.11,-.102,-.096,-.083,
-.075,-.068,-.061,-.045,-.035,-.029,-.024,-.019,-.014,-.008,
0,.006,.012,.02,.026,.03,.035,.039,.043,.046,
.048,.05,.051,.051,.05,.05,.049,.047,.043,.04,
.035,.03,.026,.022,.019,.016,.013,.011,.009,.008,
.007,.006,.006,.005,.004,.003,.003,.002,.002,.001,
0];
const step5Psi4=[.001,.003,.005,.007,.01,.012,.015,.019,.022,.026,
.03,.034,.038,.042,.046,.05,.055,.06,.066,.07,
.072,.07,.064,.055,.048,.032,.016,0,-.016,-.032,
-.047,-.058,-.067,-.07,-.072,-.07,-.064,-.058,-.051,-.032,
-.016,0,.016,.032,.045,.055,.065,.077,.09,.105,
.12,.13,.145,.153,.163,.17,.18,.187,.19,.196,
.186,.17,.149,.126,.098,.067,.037,.003,-.029,-.063,
-.093,-.121,-.144,-.163,-.181,-.189,-.19,-.192,-.185,-.179,
-.17,-.16,-.15,-.14,-.13,-.118,-.105,-.094,-.082,-.072,
-.062,-.054,-.046,-.038,-.03,-.024,-.018,-.013,-.008,-.004,
0];
const step5Psi5=[-.01,-.025,-.035,-.048,-.061,-.071,-.08,-.09,-.099,-.109,
-.114,-.119,-.123,-.125,-.126,-.127,-.125,-.122,-.12,-.115,
-.103,-.083,-.06,-.032,-.001,.026,.058,.08,.106,.115,
.12,.115,.104,.09,.071,.045,.016,-.016,-.045,-.071,
-.099,-.115,-.131,-.147,-.16,-.172,-.172,-.173,-.17,-.167,
-.154,-.145,-.133,-.115,-.095,-.075,-.05,-.02,.021,.067,
.09,.103,.122,.121,.119,.119,.119,.107,.093,.074,
.05,.029,.006,-.019,-.044,-.06,-.075,-.09,-.105,-.115,
-.118,-.122,-.125,-.128,-.131,-.13,-.125,-.12,-.112,-.103,
-.093,-.082,-.071,-.061,-.051,-.041,-.032,-.022,-.01,-.005,
0];

const panels=[
{id:'step1',left:89.5,right:334.5,top:83.5,bottom:395.5,yTicks:yTicksStep1,series:[step1Psi1,step1Psi2,step1Psi3,step1Psi4,step1Psi5]},
{id:'step2',left:411.5,right:656.5,top:83.5,bottom:395.5,yTicks:yTicksStep2,series:[step2Psi1,step2Psi2,step2Psi3,step2Psi4,step2Psi5]},
{id:'step3',left:733.5,right:978.5,top:83.5,bottom:395.5,yTicks:yTicksStep3,series:[step3Psi1,step3Psi2,step3Psi3,step3Psi4,step3Psi5]},
{id:'step4',left:1056.5,right:1301.5,top:83.5,bottom:395.5,yTicks:yTicksStep4,series:[step4Psi1,step4Psi2,step4Psi3,step4Psi4,step4Psi5]},
{id:'step8',left:89.5,right:334.5,top:517.5,bottom:829.5,yTicks:yTicksStep8,series:[step8Psi1,step8Psi2,step8Psi3,step8Psi4,step8Psi5]},
{id:'step7',left:411.5,right:656.5,top:517.5,bottom:829.5,yTicks:yTicksStep7,series:[step7Psi1,step7Psi2,step7Psi3,step7Psi4,step7Psi5]},
{id:'step6',left:733.5,right:978.5,top:517.5,bottom:829.5,yTicks:yTicksStep6,series:[step6Psi1,step6Psi2,step6Psi3,step6Psi4,step6Psi5]},
{id:'step5',left:1056.5,right:1301.5,top:517.5,bottom:829.5,yTicks:yTicksStep5,series:[step5Psi1,step5Psi2,step5Psi3,step5Psi4,step5Psi5]}
];

const NS='http://www.w3.org/2000/svg';
function svgEl(tag,attrs){
  const el=document.createElementNS(NS,tag);
  for(const k in attrs){el.setAttribute(k,attrs[k]);}
  return el;
}
function xScale(p,v){
  const min=xTicks[0],max=xTicks[xTicks.length-1];
  return p.left+(v-min)/(max-min)*(p.right-p.left);
}
function yScale(p,v){
  const min=p.yTicks[0],max=p.yTicks[p.yTicks.length-1];
  return p.bottom-(v-min)/(max-min)*(p.bottom-p.top);
}
function drawAxes(p,plot){
  xTicks.forEach(function(t){
    const x=xScale(p,t);
    if(t!==xTicks[0]&&t!==xTicks[xTicks.length-1]){
      const g=svgEl('line',{x1:x,x2:x,y1:p.top,y2:p.bottom,stroke:'#e4e4e4','stroke-width':1});
      
      
      plot.appendChild(g);
    }
  });
  p.yTicks.forEach(function(t,i){
    const y=yScale(p,t);
    if(i!==0&&i!==p.yTicks.length-1){
      const g=svgEl('line',{x1:p.left,x2:p.right,y1:y,y2:y,stroke:'#e4e4e4','stroke-width':1});
      
      
      plot.appendChild(g);
    }
  });
  const box=svgEl('rect',{x:p.left,y:p.top,width:p.right-p.left,height:p.bottom-p.top,fill:'none',stroke:'#262626','stroke-width':1});
  
  
  plot.appendChild(box);
  xTicks.forEach(function(t){
    const x=xScale(p,t);
    const a=svgEl('path',{d:'M'+x+' '+p.bottom+'v-2.5M'+x+' '+p.top+'v2.5',stroke:'#262626','stroke-width':1,fill:'none'});
    
    
    plot.appendChild(a);
    const lab=svgEl('text',{x:x,y:p.bottom+17,'text-anchor':'middle','class':'tick'});
    
    
    lab.textContent=String(t);
    plot.appendChild(lab);
  });
  p.yTicks.forEach(function(t){
    const y=yScale(p,t);
    const a=svgEl('path',{d:'M'+p.left+' '+y+'h2.5M'+p.right+' '+y+'h-2.5',stroke:'#262626','stroke-width':1,fill:'none'});
    
    
    plot.appendChild(a);
    const lab=svgEl('text',{x:p.left-4.5,y:y+4.2,'text-anchor':'end','class':'tick'});
    
    
    lab.textContent=String(t);
    plot.appendChild(lab);
  });
}
function drawSeries(p,plot){
  p.series.forEach(function(values,si){
    const group=svgEl('g',{});
    
    
    values.forEach(function(v,i){
      const m=svgEl('use',{href:'#mk'+(si+1),x:xScale(p,xValues[i]),y:yScale(p,v)});
      
      
      group.appendChild(m);
    });
    plot.appendChild(group);
  });
}
panels.forEach(function(p){
  const plot=document.querySelector('#'+p.id+' .plot');
  drawAxes(p,plot);
  drawSeries(p,plot);
});
</script>
</body>
</html>
